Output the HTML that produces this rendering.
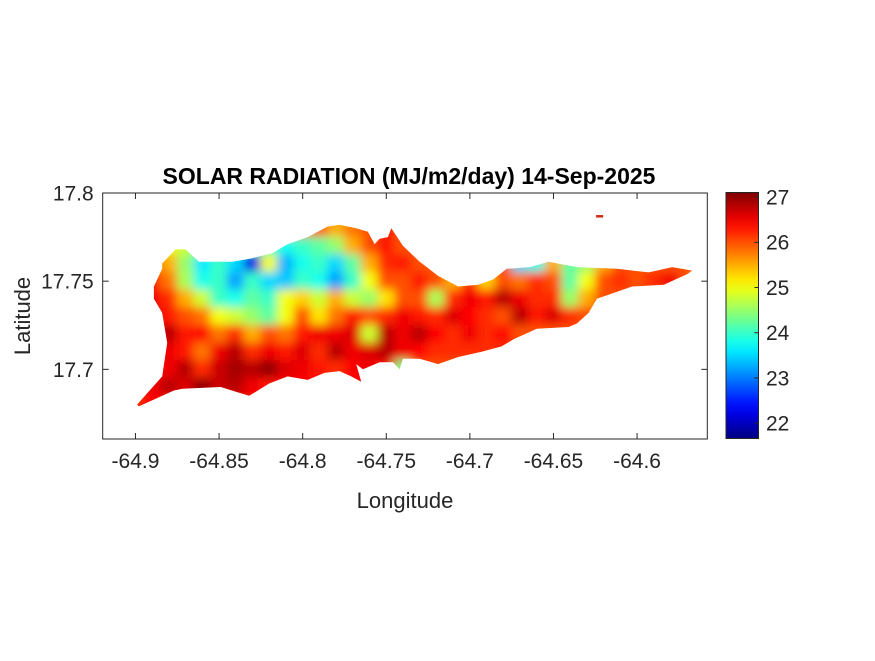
<!DOCTYPE html>
<html><head><meta charset="utf-8">
<style>
body{margin:0;background:#fff;}
svg text{font-family:"Liberation Sans",Arial,sans-serif;}
</style></head>
<body>
<svg id="chart" width="875" height="656" viewBox="0 0 875 656" xmlns="http://www.w3.org/2000/svg">
<defs>
<filter id="blur" x="-5%" y="-5%" width="110%" height="110%"><feGaussianBlur stdDeviation="4.8"/></filter>
<clipPath id="island"><path id="islandPath" d=""/></clipPath>
<linearGradient id="jetGrad" x1="0" y1="1" x2="0" y2="0"></linearGradient>
</defs>
<rect x="0" y="0" width="875" height="656" fill="#fff"/>
<g id="heat" clip-path="url(#island)"><g id="cells" filter="url(#blur)"></g></g>
<rect id="islet" fill="#d42a10"/>
<g id="axes"></g>
<text x="409" y="184" text-anchor="middle" font-size="23" font-weight="bold" fill="#000">SOLAR RADIATION (MJ/m2/day) 14-Sep-2025</text>
<text x="405" y="508" text-anchor="middle" font-size="22" fill="#262626">Longitude</text>
<text transform="translate(30,316) rotate(-90)" text-anchor="middle" font-size="22" fill="#262626">Latitude</text>
<g id="cbar"></g>
</svg>
<script>
const lonMin=-64.9196, lonMax=-64.558, latMin=17.6605, latMax=17.8;
const plotL=102.7, plotR=707.3, plotT=193, plotB=439;
const xTicks=[-64.9,-64.85,-64.8,-64.75,-64.7,-64.65,-64.6];
const xTickLabels=["-64.9","-64.85","-64.8","-64.75","-64.7","-64.65","-64.6"];
const yTicks=[17.7,17.75,17.8];
const yTickLabels=["17.7","17.75","17.8"];
const cbTicks=[22,23,24,25,26,27];
const cMin=21.66, cMax=27.1;
const gridLon0=-64.90, gridLat0=17.78, gridStep=0.01;
const gridValues=[
[26,26,26,26,26,26,26,26,26,26,26,26,25.5,25.8,26,26.3,26,26,26,26,26,26,26,26,26,26,26,26,26,26,26,26,26,26],
[26,26,25,24.8,24.5,24,23.8,24,24,23.8,24,24.2,24.5,25.5,26,26.3,26,26,26,26,26,26,26,26,26,26,26,26,26,26,26,26,26,26],
[26,26,25.5,24.5,23.6,24,23.5,22.2,25,23.3,23.8,24,23.5,24.2,25.5,26.2,26.3,26,26,26,26,26,26,23.5,23.8,25.5,24.2,24.5,25.5,26,26,26,26,26],
[26,26.3,25.8,24.6,23.8,24,23.2,24,23.5,23.4,24,23.8,23.2,24,25,26,26,26.3,26,25.5,26.2,25.3,26,25.8,26.2,26,24.2,25,26,26.2,26,26.2,26.5,26],
[26,26.5,26.2,25.5,24.8,24,23.8,24.2,24,25,25.3,24.8,25.5,24.8,24.5,25.2,26,26,24.6,26.2,26.5,26.3,26.8,26.5,26.2,26.2,24.5,25.5,26,26,26,26,26,26],
[26,26.5,26.3,26,25.8,25,24.8,24.5,24.2,25,26,25.2,25.8,26.3,26,26.2,26.5,26.3,26.2,26.6,26.4,26.2,26,26.8,26.3,26.6,26.2,26,26,26,26,26,26,26],
[26,26.5,26.8,26.3,26.4,25.8,26.2,25.5,26,25.8,26.3,26.5,26.5,26.6,24.8,26.8,26.5,26.8,26.4,26.2,26.5,26.2,26.4,26,26,26,26,26,26,26,26,26,26,26],
[26.3,26.8,26.5,26.3,25.8,26.5,26.8,26.2,26.5,26.3,26.6,26.2,26.8,26.5,26.6,26.8,26.5,26.4,26.2,26.2,26.2,26.2,26.2,26.2,26.2,26.2,26.2,26.2,26.2,26.2,26.2,26.2,26.2,26.2],
[26.3,26.3,26.5,26.8,26.2,26.7,26.9,26.8,27,26.6,26.5,26.3,26.2,26.4,26.5,26.3,24.3,26,26,26,26,26,26,26,26,26,26,26,26,26,26,26,26,26],
[26.3,26.5,26.8,26.6,27,26.7,26.8,26.5,26.3,26.4,26.4,26.4,26.4,26.4,26.4,26.4,26.4,26.4,26.4,26.4,26.4,26.4,26.4,26.4,26.4,26.4,26.4,26.4,26.4,26.4,26.4,26.4,26.4,26.4],
[26.2,26.4,26.3,26.3,26.3,26.3,26.3,26.3,26.3,26.3,26.3,26.3,26.3,26.3,26.3,26.3,26.3,26.3,26.3,26.3,26.3,26.3,26.3,26.3,26.3,26.3,26.3,26.3,26.3,26.3,26.3,26.3,26.3,26.3]
];
const outlineLon=[-64.899,-64.884,-64.881,-64.884,-64.889,-64.889,-64.884,-64.884,-64.876,-64.870,-64.862,-64.842,-64.830,-64.818,-64.809,-64.797,-64.785,-64.778,-64.768,-64.761,-64.757,-64.754,-64.749,-64.747,-64.740,-64.730,-64.719,-64.707,-64.695,-64.686,-64.678,-64.664,-64.653,-64.636,-64.612,-64.593,-64.579,-64.567,-64.570,-64.584,-64.603,-64.615,-64.624,-64.629,-64.636,-64.641,-64.660,-64.674,-64.681,-64.693,-64.707,-64.719,-64.730,-64.740,-64.742,-64.746,-64.754,-64.764,-64.768,-64.765,-64.771,-64.778,-64.787,-64.797,-64.809,-64.820,-64.832,-64.839,-64.849,-64.872,-64.877,-64.898];
const outlineLat=[17.680,17.696,17.715,17.732,17.740,17.747,17.757,17.760,17.768,17.768,17.761,17.761,17.763,17.766,17.771,17.775,17.781,17.782,17.780,17.778,17.771,17.774,17.775,17.780,17.770,17.761,17.753,17.747,17.748,17.751,17.757,17.758,17.761,17.758,17.757,17.755,17.758,17.756,17.754,17.748,17.747,17.743,17.740,17.732,17.726,17.724,17.723,17.717,17.713,17.710,17.707,17.703,17.706,17.706,17.700,17.704,17.704,17.700,17.703,17.693,17.696,17.699,17.698,17.694,17.696,17.692,17.685,17.687,17.690,17.689,17.688,17.679];

const NS="http://www.w3.org/2000/svg";
const X=lon=>plotL+(lon-lonMin)/(lonMax-lonMin)*(plotR-plotL);
const Y=lat=>plotT+(latMax-lat)/(latMax-latMin)*(plotB-plotT);
const clamp=v=>Math.max(0,Math.min(1,v));
function jet(v){const t=clamp((v-cMin)/(cMax-cMin));
 const r=clamp(1.5-Math.abs(4*t-3)),g=clamp(1.5-Math.abs(4*t-2)),b=clamp(1.5-Math.abs(4*t-1));
 return `rgb(${Math.round(r*255)},${Math.round(g*255)},${Math.round(b*255)})`;}
function mk(tag,attrs,parent){const e=document.createElementNS(NS,tag);for(const k in attrs)e.setAttribute(k,attrs[k]);parent.appendChild(e);return e;}

let d="";outlineLon.forEach((lo,i)=>{d+=(i?"L":"M")+X(lo).toFixed(1)+","+Y(outlineLat[i]).toFixed(1);});
document.getElementById("islandPath").setAttribute("d",d+"Z");

const cells=document.getElementById("cells");
const cw=X(gridLon0+gridStep)-X(gridLon0), ch=Y(gridLat0-gridStep)-Y(gridLat0);
gridValues.forEach((row,r)=>row.forEach((v,c)=>{
 const lon=gridLon0+c*gridStep, lat=gridLat0-r*gridStep;
 const el=mk("rect",{x:X(lon)-cw/2-0.5,y:Y(lat)-ch/2-0.5,width:cw+1,height:ch+1,fill:jet(v)},cells);
 
 
}));
const islet=document.getElementById("islet");
islet.setAttribute("x",X(-64.6245));islet.setAttribute("y",Y(17.7875));islet.setAttribute("width",7);islet.setAttribute("height",2.5);

const ax=document.getElementById("axes");
mk("rect",{x:plotL,y:plotT,width:plotR-plotL,height:plotB-plotT,fill:"none",stroke:"#262626","stroke-width":1},ax);
xTicks.forEach((t,i)=>{const x=X(t);
 mk("line",{x1:x,x2:x,y1:plotB,y2:plotB-6,stroke:"#262626"},ax);
 mk("line",{x1:x,x2:x,y1:plotT,y2:plotT+6,stroke:"#262626"},ax);
 const tx=mk("text",{x:x,y:468,"text-anchor":"middle","font-size":"21",fill:"#262626"},ax);tx.textContent=xTickLabels[i];
 
 
});
yTicks.forEach((t,i)=>{const y=Y(t);
 mk("line",{x1:plotL,x2:plotL+6,y1:y,y2:y,stroke:"#262626"},ax);
 mk("line",{x1:plotR,x2:plotR-6,y1:y,y2:y,stroke:"#262626"},ax);
 const tx=mk("text",{x:plotL-9,y:y+7.5,"text-anchor":"end","font-size":"21",fill:"#262626"},ax);tx.textContent=yTickLabels[i];
 
 
});

const grad=document.getElementById("jetGrad");
for(let i=0;i<=20;i++){const v=cMin+(cMax-cMin)*i/20;mk("stop",{offset:(i/20),"stop-color":jet(v)},grad);}
const cb=document.getElementById("cbar");
const cbL=726,cbR=758.5,cbT=192.5,cbB=438.5;
const CY=v=>cbB-(v-cMin)/(cMax-cMin)*(cbB-cbT);
mk("rect",{x:cbL,y:cbT,width:cbR-cbL,height:cbB-cbT,fill:"url(#jetGrad)",stroke:"#262626","stroke-width":1},cb);
cbTicks.forEach(t=>{const y=CY(t);
 mk("line",{x1:cbR,x2:cbR-4,y1:y,y2:y,stroke:"#262626"},cb);
 const tx=mk("text",{x:766,y:y+7.5,"font-size":"21",fill:"#262626"},cb);tx.textContent=String(t);
 
 
});
</script>
</body></html>
